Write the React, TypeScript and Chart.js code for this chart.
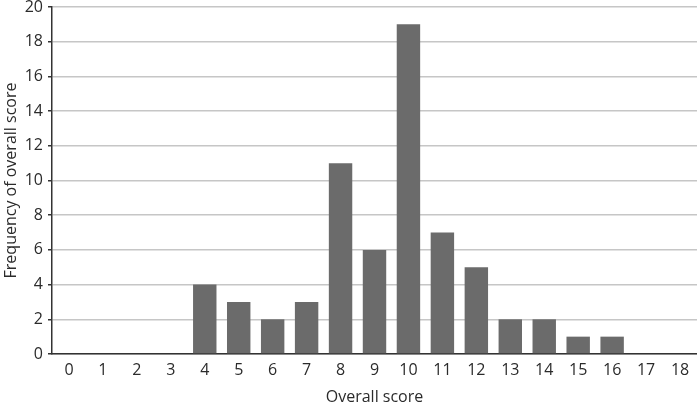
import React, { useEffect, useRef } from "react";
import { Chart, registerables } from "chart.js";

Chart.register(...registerables);

const categories = ["0","1","2","3","4","5","6","7","8","9","10","11","12","13","14","15","16","17","18"];
const frequencies = [0, 0, 0, 0, 4, 3, 2, 3, 11, 6, 19, 7, 5, 2, 2, 1, 1, 0, 0];
const yMin = 0;
const yMax = 20;
const yStep = 2;
const xTitle = "Overall score";
const yTitle = "Frequency of overall score";

const FONT = "'Open Sans', 'Noto Sans', sans-serif";
const TEXT = "#2b2b2b";

export default function App() {
  const ref = useRef<HTMLCanvasElement | null>(null);
  useEffect(() => {
    document.body.style.margin = "0";
    const canvas = ref.current;
    if (!canvas) return;
    const chart = new Chart(canvas, {
      type: "bar",
      data: {
        labels: categories,
        datasets: [
          {
            data: frequencies,
            backgroundColor: "#6b6b6b",
            borderWidth: 0,
            categoryPercentage: 1,
            barPercentage: 0.69,
          },
        ],
      },
      options: {
        animation: false,
        responsive: false,
        maintainAspectRatio: false,
        layout: { padding: { top: 7, right: 0, left: 0, bottom: 0 } },
        plugins: { legend: { display: false }, tooltip: { enabled: false } },
        scales: {
          x: {
            offset: true,
            grid: { display: false, drawTicks: false, tickLength: 0 },
            border: { display: true, color: "#333333", width: 1.5 },
            ticks: {
              color: TEXT,
              font: { family: FONT, size: 16 },
              padding: 7,
              maxRotation: 0,
              autoSkip: false,
            },
            title: {
              display: true,
              text: xTitle,
              color: TEXT,
              font: { family: FONT, size: 16, lineHeight: 1 },
              padding: 0,
            },
            afterFit: (s: any) => {
              s.height = 51;
              s.paddingLeft = 0;
              s.paddingRight = 0;
            },
          },
          y: {
            min: yMin,
            max: yMax,
            grid: {
              color: "#c6c6c6",
              lineWidth: 1.5,
              tickLength: 4,
              tickColor: "#333333",
              drawTicks: true,
            },
            border: { display: true, color: "#333333", width: 1.5 },
            ticks: {
              stepSize: yStep,
              color: TEXT,
              font: { family: FONT, size: 16 },
              padding: 5,
            },
            title: {
              display: true,
              text: yTitle,
              color: TEXT,
              font: { family: FONT, size: 16, lineHeight: 1.2 },
              padding: { top: 2, bottom: 0 },
            },
            afterFit: (s: any) => {
              s.width = 52;
              s.paddingTop = 0;
              s.paddingBottom = 0;
            },
          },
        },
      },
    });
    return () => chart.destroy();
  }, []);
  return (
    <div style={{ position: "fixed", left: 0, top: 0, width: 697, height: 405 }}>
      <canvas ref={ref} width={697} height={405} style={{ width: 697, height: 405, display: "block" }} />
    </div>
  );
}
